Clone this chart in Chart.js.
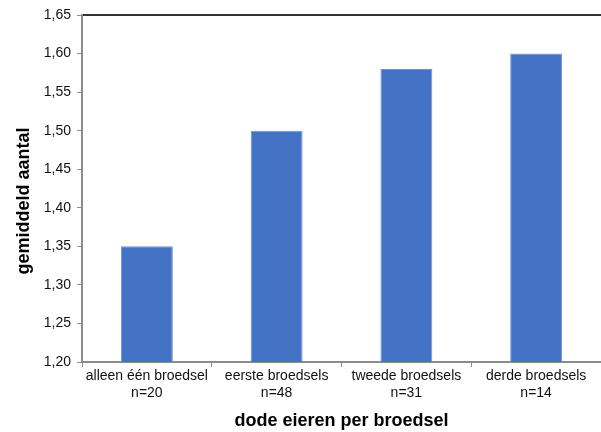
<!DOCTYPE html>
<html>
<head>
<meta charset="utf-8">
<script src="https://cdn.jsdelivr.net/npm/chart.js@4/dist/chart.umd.min.js"></script>
<style>
  html, body { margin: 0; padding: 0; background: #fff; }
  #wrap { width: 601px; height: 432px; position: relative; }
</style>
</head>
<body>
<div id="wrap"><canvas id="c" width="601" height="432"></canvas></div>
<script>
// Average number of dead eggs per brood
const categories = [
  ['alleen één broedsel', 'n=20'],
  ['eerste broedsels', 'n=48'],
  ['tweede broedsels', 'n=31'],
  ['derde broedsels', 'n=14']
];
const values = [1.35, 1.50, 1.58, 1.60];
const yTicks = [1.20, 1.25, 1.30, 1.35, 1.40, 1.45, 1.50, 1.55, 1.60, 1.65];

const FONT = '"Liberation Sans", Arial, sans-serif';
// trailing blanks nudge the rotated axis title a little lower
const Y_TITLE = 'gemiddeld aantal' + '\u00a0'.repeat(5);

new Chart(document.getElementById('c'), {
  type: 'bar',
  data: {
    labels: categories,
    datasets: [{
      data: values,
      backgroundColor: '#4472C4',
      borderColor: '#6E93D6',
      borderWidth: 1,
      categoryPercentage: 1.0,
      barPercentage: 0.4
    }]
  },
  options: {
    responsive: false,
    animation: false,
    devicePixelRatio: 1,
    layout: { padding: { top: 15, right: 0, left: 0, bottom: 0 } },
    plugins: { legend: { display: false }, tooltip: { enabled: false } },
    scales: {
      x: {
        type: 'category',
        position: 'bottom',
        offset: true,
        grid: {
          offset: true,
          drawOnChartArea: false,
          drawTicks: true,
          tickLength: 5,
          color: '#8c8c8c',
          lineWidth: 1
        },
        border: { display: true, color: '#8c8c8c', width: 2 },
        ticks: {
          color: '#111',
          font: { family: FONT, size: 14, lineHeight: 1.2 },
          padding: 1,
          maxRotation: 0,
          autoSkip: false
        },
        title: {
          display: true,
          text: 'dode eieren per broedsel',
          color: '#000',
          font: { family: FONT, size: 18, weight: 'bold' },
          padding: { top: 4, bottom: 0 }
        },
        afterFit: (s) => { s.height = 70; }
      },
      xTop: {
        type: 'category',
        position: 'top',
        display: true,
        grid: { display: false, drawTicks: false },
        border: { display: true, color: '#333333', width: 2 },
        ticks: { display: false },
        afterFit: (s) => { s.height = 0; }
      },
      y: {
        min: 1.20,
        max: 1.65,
        afterBuildTicks: (s) => { s.ticks = yTicks.map(v => ({ value: v })); },
        grid: {
          drawOnChartArea: false,
          drawTicks: true,
          tickLength: 5,
          color: '#8c8c8c'
        },
        border: { display: true, color: '#8c8c8c', width: 2 },
        ticks: {
          color: '#111',
          font: { family: FONT, size: 14 },
          padding: 6,
          callback: (v) => Number(v).toFixed(2).replace('.', ',')
        },
        title: {
          display: true,
          text: Y_TITLE,
          color: '#000',
          font: { family: FONT, size: 18, weight: 'bold' },
          padding: { top: 13, bottom: 0 }
        },
        afterFit: (s) => { s.width = 82; }
      }
    }
  }
});
</script>
</body>
</html>
